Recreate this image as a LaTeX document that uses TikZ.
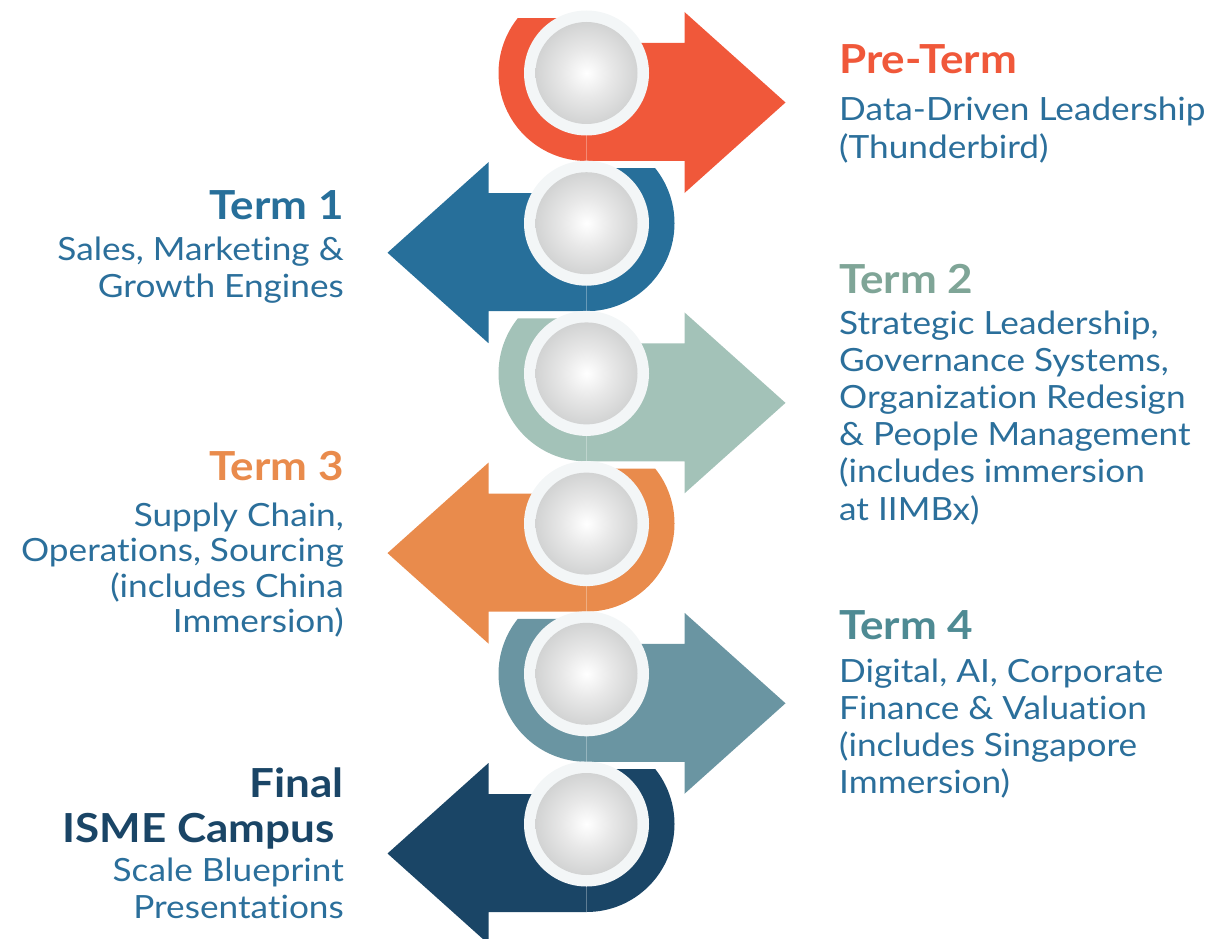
\documentclass[tikz,border=0pt]{standalone}
\usepackage{fontspec}
\setmainfont{Lato}[FakeStretch=1.1, Ligatures={NoCommon,NoRare,NoContextual}]
\usetikzlibrary{calc}
\newcommand{\tI}{t\kern0pt i}
\definecolor{cPre}{HTML}{F0583A}
\definecolor{cT1}{HTML}{276F9A}
\definecolor{cT2}{HTML}{A3C2B8}
\definecolor{cT3}{HTML}{E98B4C}
\definecolor{cT4}{HTML}{6A95A2}
\definecolor{cFin}{HTML}{1A4566}
\definecolor{hT2}{HTML}{7FA597}
\definecolor{hT4}{HTML}{4E8A93}
\definecolor{bodyc}{HTML}{2B6F9B}
\definecolor{ringc}{HTML}{F3F6F7}
\definecolor{ballmid}{HTML}{E8E8E8}
\definecolor{balledge}{HTML}{D2D3D3}
\pgfdeclareradialshading{ballshade}{\pgfpoint{0bp}{0bp}}{color(0bp)=(white); color(12bp)=(ballmid); color(25bp)=(balledge); color(50bp)=(balledge)}
\newcommand{\RArrow}[3]{%
  \fill[#3] (#1,#2+88) arc[start angle=90, end angle=218.68, radius=88]
    -- (#1,#2-55) -- (#1,#2-30) -- (#1+98,#2-30) -- (#1+98,#2-61)
    -- (#1+199,#2+29.5) -- (#1+98,#2+120) -- (#1+98,#2+88) -- cycle;
  \draw[white, opacity=.3, line width=.7pt] (#1,#2+62) -- (#1,#2+88);
}
\newcommand{\LArrow}[3]{%
  \fill[#3] (#1,#2+88) arc[start angle=90, end angle=-38.68, radius=88]
    -- (#1,#2-55) -- (#1,#2-30) -- (#1-98,#2-30) -- (#1-98,#2-61)
    -- (#1-199,#2+29.5) -- (#1-98,#2+120) -- (#1-98,#2+88) -- cycle;
  \draw[white, opacity=.3, line width=.7pt] (#1,#2+62) -- (#1,#2+88);
}
\begin{document}
\begin{tikzpicture}[x=1pt,y=-1pt,
  ring/.style={circle, fill=ringc, minimum size=125pt, inner sep=0pt},
  ball/.style={circle, shade, shading=ballshade, minimum size=102pt, inner sep=0pt},
  heading/.style={font=\bfseries\fontsize{40}{45}\selectfont, inner sep=0pt},
  body/.style={font=\fontsize{32}{37.2}\selectfont, text=bodyc, inner sep=0pt}]
\useasboundingbox (0,0) rectangle (1221,939);
\clip (0,0) rectangle (1221,939);
% arrows
\RArrow{586.5}{73}{cPre}
\LArrow{586.5}{223.2}{cT1}
\RArrow{586.5}{373.4}{cT2}
\LArrow{586.5}{523.6}{cT3}
\RArrow{586.5}{673.8}{cT4}
\LArrow{586.5}{824}{cFin}
% rings and balls
\foreach \i/\y in {0/73,1/223.2,2/373.4,3/523.6,4/673.8,5/824}{
  \node[ring] (r\i) at (586.5,\y) {};
  \node[ball] (b\i) at (r\i) {};
}
% texts right (base anchor = last line baseline)
\node[heading, text=cPre, anchor=base west] (pre) at (839,73.3) {Pre-Term};
\node[body, anchor=base west, align=left, font=\fontsize{32}{37}\selectfont] (preb) at (839,158) {Data-Driven Leadership\\(Thunderbird)};
\node[heading, text=hT2, anchor=base west] (t2) at (839,293.3) {Term 2};
\node[body, anchor=base west, align=left] (t2b) at (839,520) {Strategic Leadership,\\Governance Systems,\\Organiza\tI on Redesign\\\& People Management\\(includes immersion\\at IIMBx)};
\node[heading, text=hT4, anchor=base west] (t4) at (839,639.3) {Term 4};
\node[body, anchor=base west, align=left, font=\fontsize{32}{36.9}\selectfont] (t4b) at (839,793.4) {Digital, AI, Corporate\\Finance \& Valua\tI on\\(includes Singapore\\Immersion)};
% texts left
\node[heading, text=cT1, anchor=base east] (t1) at (344,219.3) {Term 1};
\node[body, anchor=base east, align=right, font=\fontsize{32}{37.3}\selectfont] (t1b) at (344,297.3) {Sales, Marke\tI ng \&\\Growth Engines};
\node[heading, text=cT3, anchor=base east] (t3) at (344,480) {Term 3};
\node[body, anchor=base east, align=right, font=\fontsize{32}{35.6}\selectfont] (t3b) at (344,632.8) {Supply Chain,\\Opera\tI ons, Sourcing\\(includes China\\Immersion)};
\node[heading, text=cFin, anchor=base east, align=right, font=\bfseries\fontsize{40}{45.4}\selectfont] (fin) at (344,842.7) {Final\\ISME Campus\hspace*{9pt}};
\node[body, anchor=base east, align=right, font=\fontsize{32}{36.6}\selectfont] (finb) at (344,918.3) {Scale Blueprint\\Presenta\tI ons};
\end{tikzpicture}
\end{document}
